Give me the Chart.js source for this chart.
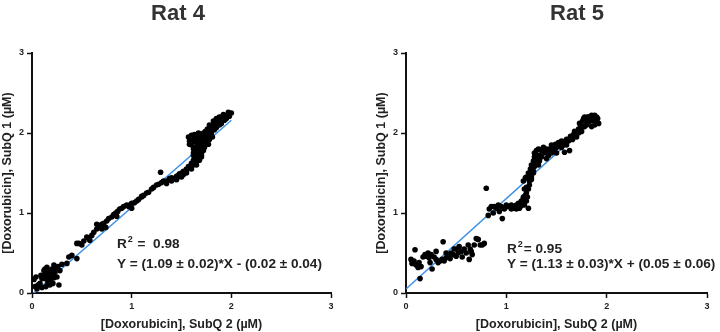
<!doctype html>
<html>

<head>
	<title>Rat 4 / Rat 5 SubQ doxorubicin correlation</title>
	<script src="https://cdn.jsdelivr.net/npm/chart.js@4"></script>
	<style>
		body { margin: 0; background: #fff; }
		.holder { position: absolute; top: 0; width: 360px; height: 332px; }
		#h1 { left: 0; }
		#h2 { left: 360px; }
	</style>
</head>

<body>
	<div class="holder" id="h1"><canvas id="rat4"></canvas></div>
	<div class="holder" id="h2"><canvas id="rat5"></canvas></div>
	<script>
		// Rat 4: SubQ 2 (x) vs SubQ 1 (y), values in µM
		var rat4X = [0.02, 0.04, 0.03, 0.06, 0.08, 0.1, 0.12, 0.12, 0.13, 0.15, 0.15, 0.16, 0.17, 0.18, 0.18, 0.2, 0.2, 0.21, 0.22, 0.23, 0.24, 0.25, 0.26, 0.27, 0.14, 0.1, 0.16, 0.19, 0.22, 0.28, 0.3, 0.13, 0.09, 0.05,
			0.35, 0.37, 0.4, 0.45, 0.45, 0.47, 0.5, 0.52, 0.55, 0.57, 0.6, 0.62, 0.65, 0.65, 0.68, 0.7, 0.72, 0.74, 0.75, 0.77, 0.8, 0.82, 0.84, 0.86, 0.88, 0.9, 0.92, 0.95, 0.97, 1.0, 1.0, 1.03, 1.05, 1.07, 1.1, 1.12, 1.15, 1.17, 1.2, 1.22, 1.25, 1.27, 1.29, 1.3, 1.32, 1.35, 1.38, 1.4, 1.42, 1.45, 1.47, 1.5, 1.52, 1.55, 1.57, 1.6, 1.62, 1.64, 1.45, 1.5, 1.55, 1.6, 1.65, 1.68, 1.7, 1.7, 1.68,
			1.57, 1.58, 1.6, 1.62, 1.63, 1.65, 1.67, 1.6, 1.65, 1.66, 1.68,
			1.7, 1.72, 1.74, 1.76, 1.78, 1.8, 1.82, 1.84, 1.86, 1.88, 1.9, 1.92, 1.94, 1.96, 1.98, 2.0, 1.72, 1.75, 1.78, 1.8, 1.83, 1.85, 1.88, 1.9, 1.93, 1.95, 1.72, 1.74, 1.76, 1.7, 1.78, 1.82, 1.85, 1.88, 1.92, 1.97,
			1.6, 1.62, 1.64, 1.66, 1.68, 1.7, 1.72, 1.74, 1.76, 1.78, 1.8, 1.82, 1.84, 1.86, 1.88, 1.9, 1.92, 1.94, 1.96, 1.98, 1.62, 1.66, 1.7, 1.74, 1.78, 1.82, 1.86, 1.9, 1.94, 1.58, 1.64, 1.69, 1.73, 1.77, 1.81,
			1.35, 1.4, 1.45, 1.5, 1.55, 1.48, 1.52, 1.58, 1.62, 1.66, 1.62, 1.64, 1.66, 1.68, 1.7, 0.58, 0.7, 0.85, 0.98, 1.1];
		var rat4Y = [0.17, 0.2, 0.08, 0.1, 0.12, 0.18, 0.22, 0.28, 0.3, 0.25, 0.32, 0.2, 0.15, 0.27, 0.1, 0.22, 0.3, 0.12, 0.35, 0.26, 0.3, 0.2, 0.33, 0.1, 0.08, 0.07, 0.13, 0.17, 0.19, 0.28, 0.36, 0.18, 0.22, 0.05,
			0.37, 0.45, 0.47, 0.43, 0.62, 0.62, 0.6, 0.65, 0.7, 0.68, 0.72, 0.76, 0.8, 0.86, 0.84, 0.86, 0.87, 0.82, 0.9, 0.93, 0.95, 0.98, 1.0, 1.02, 1.05, 1.06, 1.08, 1.1, 1.08, 1.12, 1.06, 1.13, 1.15, 1.17, 1.2, 1.22, 1.25, 1.26, 1.3, 1.32, 1.35, 1.36, 1.51, 1.38, 1.4, 1.4, 1.43, 1.44, 1.43, 1.46, 1.47, 1.5, 1.52, 1.55, 1.58, 1.62, 1.66, 1.7, 1.42, 1.45, 1.5, 1.55, 1.6, 1.66, 1.72, 1.8, 1.75,
			1.95, 1.9, 1.97, 1.92, 1.98, 1.95, 2.0, 1.88, 1.88, 1.82, 1.9,
			1.95, 2.0, 2.02, 2.05, 2.05, 2.08, 2.1, 2.12, 2.14, 2.15, 2.18, 2.2, 2.21, 2.22, 2.24, 2.25, 1.88, 1.95, 1.98, 2.0, 2.04, 2.07, 2.1, 2.12, 2.16, 2.18, 1.78, 1.85, 1.9, 1.7, 1.92, 2.15, 2.18, 2.2, 2.23, 2.26,
			1.85, 1.8, 1.78, 1.75, 1.8, 1.85, 1.92, 1.97, 2.0, 2.02, 2.04, 2.06, 2.08, 2.1, 2.12, 2.14, 2.16, 2.18, 2.2, 2.21, 1.72, 1.68, 1.76, 1.92, 2.1, 2.08, 2.1, 2.2, 2.2, 1.86, 1.93, 1.98, 1.82, 1.86, 1.95,
			1.37, 1.4, 1.42, 1.47, 1.52, 1.49, 1.48, 1.58, 1.6, 1.65, 1.75, 1.82, 1.72, 1.85, 1.78, 0.66, 0.8, 0.96, 1.1, 1.21];

		// Rat 5
		var rat5X = [0.05, 0.06, 0.08, 0.09, 0.1, 0.12, 0.13, 0.14, 0.15, 0.17, 0.19, 0.2, 0.22, 0.23, 0.25, 0.26, 0.28, 0.3, 0.32, 0.34, 0.36, 0.37, 0.38, 0.4, 0.42, 0.44, 0.45, 0.47, 0.48, 0.5, 0.52, 0.53, 0.55, 0.56, 0.58, 0.6, 0.62, 0.63, 0.64, 0.65, 0.66, 0.68, 0.7, 0.72, 0.74, 0.76, 0.78, 0.3, 0.24, 0.4, 0.5,
			0.8, 0.82, 0.83, 0.85, 0.87, 0.88, 0.9, 0.92, 0.93, 0.95, 0.96, 0.98, 1.0, 1.02, 1.05, 1.07, 1.1, 1.12, 1.14, 1.15, 1.17, 1.18, 1.2, 1.22, 1.22, 1.2, 1.18, 1.17, 1.2, 1.22, 1.23, 1.24, 1.25, 1.27, 1.28, 1.3, 1.27, 1.25, 1.28, 1.3, 1.19,
			1.3, 1.32, 1.35, 1.37, 1.4, 1.42, 1.45, 1.47, 1.5, 1.52, 1.55, 1.57, 1.6, 1.62, 1.65, 1.67, 1.7, 1.72, 1.74, 1.76, 1.78, 1.8, 1.82, 1.84, 1.86, 1.88, 1.9, 1.92, 1.78, 1.8, 1.85, 1.75, 1.7, 1.6, 1.55, 1.48, 1.42, 1.38, 1.35, 1.33, 1.32, 1.4, 1.45, 1.5, 1.58, 1.63, 1.9, 1.88, 1.82,
			1.15, 1.17, 1.19, 1.21, 1.23, 1.25, 1.27, 1.29, 1.2, 1.24, 1.26, 1.28, 1.31, 1.33, 1.36, 1.39, 1.43, 1.46, 1.49, 1.53, 1.56, 1.59, 1.62, 1.66, 1.69, 1.72, 1.75, 1.79, 1.83, 1.87, 1.91, 1.77, 1.81, 1.85, 1.89, 1.73, 1.68, 1.64, 1.1, 1.13, 1.16, 1.05];
		var rat5Y = [0.42, 0.37, 0.4, 0.54, 0.35, 0.32, 0.38, 0.18, 0.33, 0.45, 0.48, 0.46, 0.5, 0.44, 0.48, 0.3, 0.45, 0.52, 0.38, 0.4, 0.42, 0.64, 0.4, 0.44, 0.46, 0.43, 0.5, 0.48, 0.55, 0.46, 0.5, 0.58, 0.52, 0.45, 0.55, 0.5, 0.6, 0.42, 0.55, 0.52, 0.48, 0.6, 0.68, 0.67, 0.6, 0.6, 0.62, 0.42, 0.38, 0.5, 0.55,
			1.31, 0.97, 1.05, 1.08, 1.0, 1.08, 1.06, 1.1, 1.02, 1.08, 0.93, 1.05, 1.1, 1.08, 1.1, 1.06, 1.05, 1.12, 1.08, 1.15, 1.2, 1.1, 1.25, 1.3, 1.06, 1.15, 1.3, 1.4, 1.45, 1.5, 1.4, 1.55, 1.6, 1.65, 1.7, 1.72, 1.52, 1.45, 1.58, 1.62, 1.44,
			1.78, 1.8, 1.78, 1.82, 1.8, 1.75, 1.85, 1.83, 1.82, 1.88, 1.9, 1.85, 1.92, 1.9, 1.95, 1.98, 2.0, 2.05, 2.1, 2.15, 2.2, 2.18, 2.2, 2.15, 2.2, 2.1, 2.15, 2.12, 2.08, 2.1, 2.08, 2.02, 1.95, 1.85, 1.82, 1.78, 1.72, 1.75, 1.7, 1.65, 1.6, 1.68, 1.75, 1.75, 1.76, 1.78, 2.2, 2.22, 2.14,
			1.12, 1.18, 1.22, 1.2, 1.35, 1.42, 1.5, 1.68, 1.32, 1.48, 1.56, 1.75, 1.68, 1.72, 1.8, 1.76, 1.8, 1.8, 1.86, 1.84, 1.86, 1.9, 1.92, 1.92, 1.96, 2.0, 2.08, 2.14, 2.18, 2.16, 2.18, 2.18, 2.2, 2.22, 2.18, 2.12, 2.02, 1.96, 1.1, 1.06, 1.1, 1.05];

		// linear fits: [slope, intercept, x end]
		var rat4Fit = [1.09, -0.02, 2.0];
		var rat5Fit = [1.13, 0.05, 1.92];

		var rat4Text = ['0.98', 'Y = (1.09 \u00b1 0.02)*X - (0.02 \u00b1 0.04)'];
		var rat5Text = ['0.95', 'Y = (1.13 \u00b1 0.03)*X + (0.05 \u00b1 0.06)'];

		var axisTicks = [0, 1, 2, 3];

		var FONT = "'Liberation Sans', Arial, sans-serif";

		function toPoints(xs, ys) {
			return xs.map(function(x, i) { return {x: x, y: ys[i]}; });
		}

		// panel title plus R² and equation text drawn on the chart
		var fitLabel = {
			id: 'fitLabel',
			afterDatasetsDraw: function(chart, args, opts) {
				var ctx = chart.ctx;
				ctx.save();
				ctx.textBaseline = 'alphabetic';

				ctx.fillStyle = '#333';
				ctx.textAlign = 'center';
				ctx.font = 'bold 22px ' + FONT;
				ctx.fillText(opts.title, opts.titleX, 20);

				var x = chart.chartArea.left + opts.dx;
				var y = chart.chartArea.top + opts.dy;
				ctx.fillStyle = '#222';
				ctx.textAlign = 'left';
				ctx.font = 'bold 13.6px ' + FONT;
				ctx.fillText('R', x, y);
				var w = ctx.measureText('R').width;
				ctx.font = 'bold 9px ' + FONT;
				ctx.fillText('2', x + w + 1, y - 6);
				ctx.font = 'bold 13.6px ' + FONT;
				ctx.fillText(opts.gap + opts.lines[0], x + w + 7, y);
				ctx.fillText(opts.lines[1], x, y + opts.lineGap);
				ctx.restore();
			}
		};

		function makeChart(id, title, xs, ys, fit, text, padLeft, padRight, label) {
			var scaleBase = {
				type: 'linear',
				min: 0,
				max: 3,
				afterBuildTicks: function(scale) {
					scale.ticks = axisTicks.map(function(v) { return {value: v}; });
				},
				grid: {
					drawOnChartArea: false,
					drawTicks: true,
					tickLength: 5,
					tickWidth: 1.5,
					color: '#111'
				},
				border: {display: true, color: '#111', width: 2},
				ticks: {
					color: '#222',
					padding: 3,
					font: {family: FONT, size: 9, weight: 'bold'}
				}
			};
			var xScale = Object.assign({}, scaleBase, {
				position: 'bottom',
				title: {
					display: true,
					text: '[Doxorubicin], SubQ 2 (\u00b5M)',
					color: '#222',
					padding: {top: 4, bottom: 0},
					font: {family: FONT, size: 12.5, weight: 'bold'}
				},
				afterFit: function(scale) { scale.height = 39; }
			});
			var yScale = Object.assign({}, scaleBase, {
				position: 'left',
				title: {
					display: true,
					text: '[Doxorubicin], SubQ 1 (\u00b5M)',
					color: '#222',
					padding: {top: 0, bottom: 2},
					font: {family: FONT, size: 12.5, weight: 'bold'}
				},
				afterFit: function(scale) { scale.width = 32; }
			});

			return new Chart(document.getElementById(id), {
				type: 'scatter',
				data: {
					datasets: [{
						data: toPoints(xs, ys),
						backgroundColor: '#000',
						borderWidth: 0,
						pointRadius: 2.8
					}, {
						type: 'line',
						data: [{x: 0, y: fit[1]}, {x: fit[2], y: fit[0] * fit[2] + fit[1]}],
						borderColor: '#3f93e6',
						borderWidth: 1.5,
						pointRadius: 0,
						fill: false
					}]
				},
				options: {
					responsive: false,
					animation: false,
					layout: {padding: {left: padLeft, right: padRight, top: 53, bottom: 0}},
					plugins: {
						legend: {display: false},
						tooltip: {enabled: false},
						title: {display: false},
						fitLabel: Object.assign({lines: text, title: title}, label)
					},
					scales: {x: xScale, y: yScale}
				},
				plugins: [fitLabel]
			});
		}

		window.onload = function() {
			var c1 = document.getElementById('rat4');
			var c2 = document.getElementById('rat5');
			c1.width = 360; c1.height = 332;
			c2.width = 360; c2.height = 332;
			makeChart('rat4', 'Rat 4', rat4X, rat4Y, rat4Fit, rat4Text, 0, 29,
				{titleX: 178, gap: ' =  ', dx: 85, dy: 195, lineGap: 20});
			makeChart('rat5', 'Rat 5', rat5X, rat5Y, rat5Fit, rat5Text, 14, 13,
				{titleX: 217, gap: '= ', dx: 101, dy: 200, lineGap: 15});
		};
	</script>
</body>

</html>
